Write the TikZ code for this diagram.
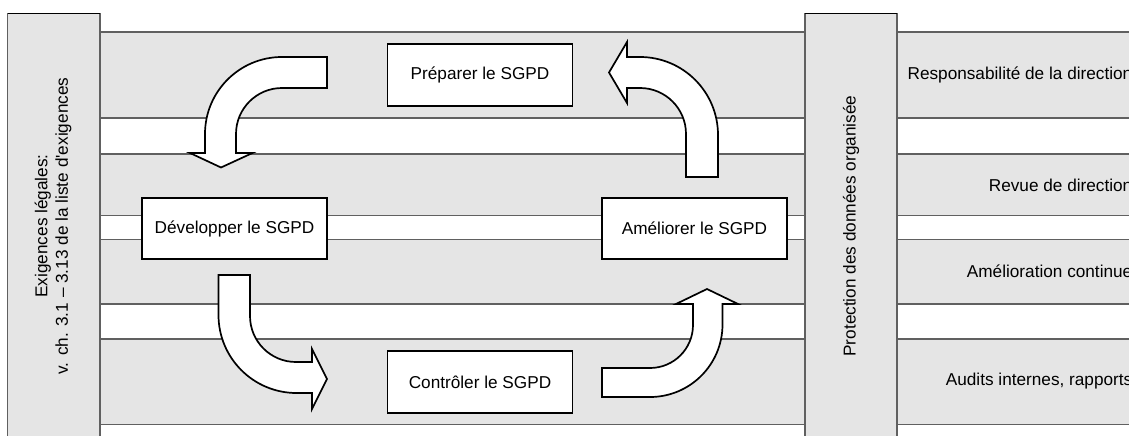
\documentclass[tikz,border=0pt]{standalone}
\usepackage{fontspec}
\setmainfont{Liberation Sans}[Ligatures=TeXOff]
\definecolor{bandgray}{HTML}{E5E5E5}
\definecolor{rulegray}{HTML}{606060}
\begin{document}
\begin{tikzpicture}[x=1pt,y=-1pt,
  font=\fontsize{17.2}{20.5}\selectfont,
  band/.style={fill=bandgray,draw=none},
  bandline/.style={draw=rulegray,line width=1.2pt},
  column/.style={fill=bandgray,draw=rulegray,line width=1.2pt},
  stagebox/.style={draw=black,fill=white,line width=1.7pt,inner sep=0pt,
    minimum width=185pt,minimum height=61.5pt},
  blockarrow/.style={draw=black,fill=white,line width=1.7pt,line join=miter},
  sidetext/.style={anchor=east,inner sep=0pt}]
\useasboundingbox (0,0) rectangle (1129,436);
\begin{scope}
\clip (0,0) rectangle (1129,436);

% horizontal bands
\foreach \ya/\yb in {32/118,154/215.5,239.5/304,339/424.5}{
  \path[band] (100,\ya) rectangle (1135,\yb);
}
\foreach \yy in {32,118,154,215.5,239.5,304,339,424.5}{
  \draw[bandline] (100,\yy) -- (1135,\yy);
}

% vertical columns
\draw[column] (7.5,440) -- (7.5,13.5) -- (100,13.5) -- (100,440);
\draw[black,line width=1.2pt] (7.5,13.5) -- (100,13.5);
\draw[column] (805,440) -- (805,13.5) -- (897,13.5) -- (897,440);
\draw[black,line width=1.2pt] (805,13.5) -- (897,13.5);

\node[rotate=90,align=center,inner sep=0pt] (req) at (53,226)
  {Exigences légales:\\v. ch. 3.1 – 3.13 de la liste d'exigences};
\node[rotate=90,inner sep=0pt] (org) at (851,226)
  {Protection des données organisée};

% labels of the right-hand bands
\node[sidetext] (resp) at (1132.5,75) {Responsabilité de la direction};
\node[sidetext] (revue) at (1132.5,185) {Revue de direction};
\node[sidetext] (amelc) at (1132.5,271.5) {Amélioration continue};
\node[sidetext] (audit) at (1132.5,381) {Audits internes, rapports};

% cycle stages
\node[stagebox] (prep) at (480,75) {Préparer le SGPD};
\node[stagebox] (dev)  at (234.5,228.5) {Développer le SGPD};
\node[stagebox] (amel) at (694.5,228.5) {Améliorer le SGPD};
\node[stagebox] (ctrl) at (480,382) {Contrôler le SGPD};

% curved block arrows of the cycle
% prepare -> develop
\draw[blockarrow] (327,57) -- (282,57) arc[start angle=-90,end angle=-180,radius=77]
  -- (205,153) -- (190,153) -- (221,167.5) -- (252.5,153) -- (236,153)
  -- (236,134) arc[start angle=180,end angle=270,radius=46] -- (327,88) -- cycle;
% develop -> check
\draw[blockarrow] (218.5,275) -- (218.5,315) arc[start angle=180,end angle=90,radius=78]
  -- (312,393) -- (312,409) -- (327,379) -- (312,349) -- (312,362)
  -- (296,362) arc[start angle=90,end angle=180,radius=46] -- (250,275) -- cycle;
% check -> improve
\draw[blockarrow] (602,397) -- (650,397) arc[start angle=90,end angle=0,radius=72.5]
  -- (722.5,304) -- (738,304) -- (707,289) -- (676,304) -- (693,304)
  -- (693,325) arc[start angle=0,end angle=90,radius=43] -- (602,368) -- cycle;
% improve -> prepare
\draw[blockarrow] (718,177) -- (718,135) arc[start angle=0,end angle=-90,radius=78]
  -- (627,57) -- (627,42) -- (609,72.5) -- (627,103) -- (627,88)
  -- (640,88) arc[start angle=-90,end angle=0,radius=46] -- (686,177) -- cycle;
\end{scope}
\end{tikzpicture}
\end{document}
